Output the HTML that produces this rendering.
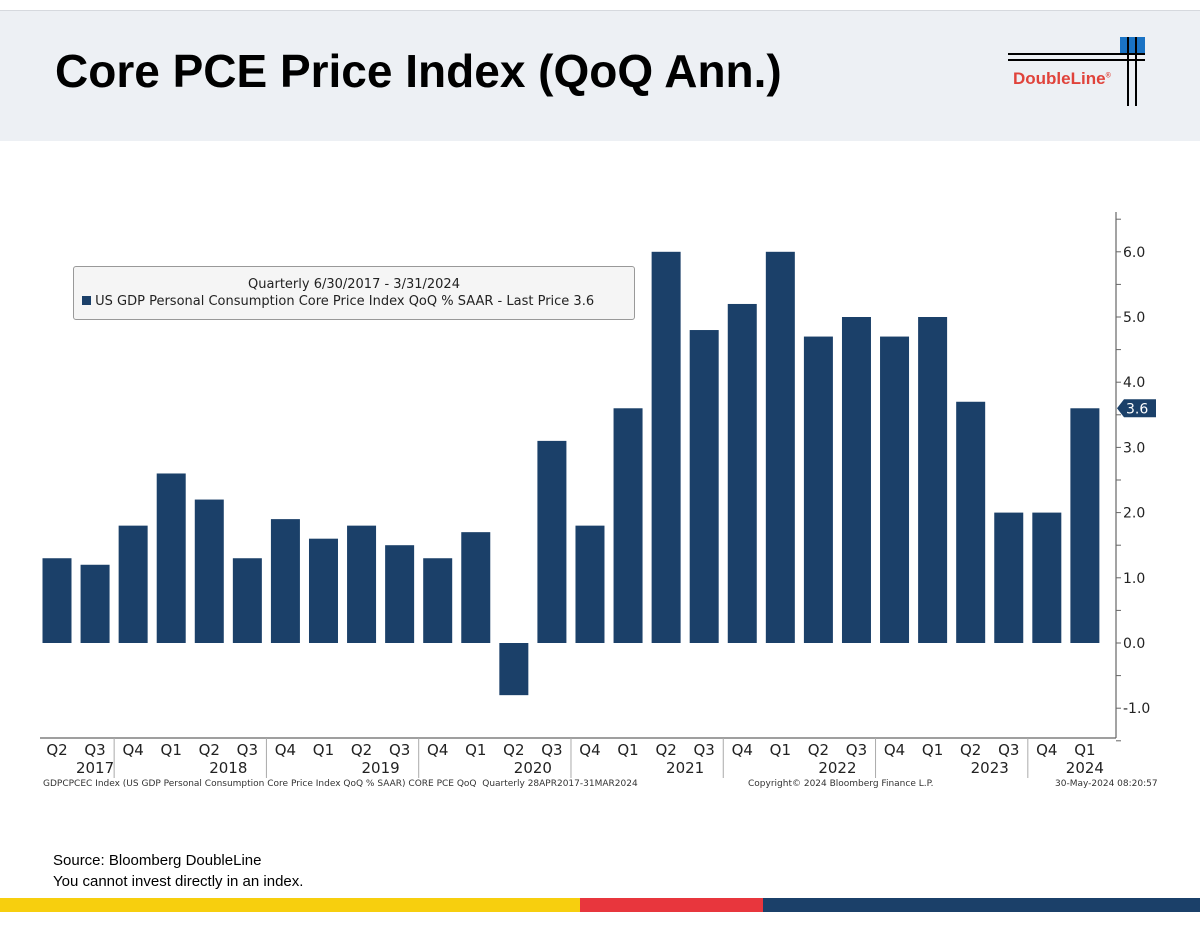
<!DOCTYPE html>
<html><head><meta charset="utf-8"><style>
body{margin:0;width:1200px;height:927px;background:#fff;position:relative;overflow:hidden;font-family:"Liberation Sans",sans-serif}
.abs{position:absolute}
</style></head><body>
<div class="abs" style="left:0;top:10px;width:1200px;height:130px;background:#edf0f4;border-top:1px solid #d6d9de"></div>
<div class="abs" style="left:55px;top:44px;font-size:46px;font-weight:bold;color:#000">Core PCE Price Index (QoQ Ann.)</div>
<div class="abs" style="left:1005px;top:35px;width:145px;height:75px">
 <div class="abs" style="left:115px;top:2px;width:25px;height:18px;background:#1a73c4"></div>
 <div class="abs" style="left:3px;top:18px;width:137px;height:2px;background:#000"></div>
 <div class="abs" style="left:3px;top:24px;width:137px;height:2px;background:#000"></div>
 <div class="abs" style="left:122px;top:2px;width:2px;height:69px;background:#000"></div>
 <div class="abs" style="left:130px;top:2px;width:2px;height:69px;background:#000"></div>
 <div class="abs" style="left:8px;top:34px;font-size:17px;font-weight:bold;color:#e0433b">DoubleLine<sup style="font-size:7px">®</sup></div>
</div>
<svg class="abs" style="left:0;top:0" width="1200" height="927" id="chart"></svg>
<div class="abs" style="left:73px;top:266px;width:560px;height:52px;border:1px solid #999;border-radius:3px;background:#f5f5f5;font-size:13px;color:#222;font-family:'DejaVu Sans',sans-serif">
 <div style="text-align:center;margin-top:10px">Quarterly 6/30/2017 - 3/31/2024</div>
 <div style="margin-left:8px;margin-top:2px;white-space:nowrap"><span style="display:inline-block;width:9px;height:9px;background:#1b4069"></span> US GDP Personal Consumption Core Price Index QoQ % SAAR - Last Price 3.6</div>
</div>
<div class="abs" style="left:43px;top:779px;font-size:9px;color:#333;font-family:'DejaVu Sans',sans-serif;white-space:nowrap">GDPCPCEC Index (US GDP Personal Consumption Core Price Index QoQ % SAAR) CORE PCE QoQ &nbsp;Quarterly 28APR2017-31MAR2024</div>
<div class="abs" style="left:748px;top:779px;font-size:9px;color:#333;font-family:'DejaVu Sans',sans-serif">Copyright© 2024 Bloomberg Finance L.P.</div>
<div class="abs" style="left:1055px;top:779px;font-size:9px;color:#333;font-family:'DejaVu Sans',sans-serif">30-May-2024 08:20:57</div>
<div class="abs" style="left:53px;top:850px;font-size:15px;color:#000;line-height:21px">Source: Bloomberg DoubleLine<br>You cannot invest directly in an index.</div>
<div class="abs" style="left:0;top:898px;width:580px;height:14px;background:#f7cf0e"></div>
<div class="abs" style="left:580px;top:898px;width:183px;height:14px;background:#e8363d"></div>
<div class="abs" style="left:763px;top:898px;width:437px;height:14px;background:#1b4069"></div>
<script>
const quarters=["Q2","Q3","Q4","Q1","Q2","Q3","Q4","Q1","Q2","Q3","Q4","Q1","Q2","Q3","Q4","Q1","Q2","Q3","Q4","Q1","Q2","Q3","Q4","Q1","Q2","Q3","Q4","Q1"];
const values=[1.3,1.2,1.8,2.6,2.2,1.3,1.9,1.6,1.8,1.5,1.3,1.7,-0.8,3.1,1.8,3.6,6.0,4.8,5.2,6.0,4.7,5.0,4.7,5.0,3.7,2.0,2.0,3.6];
const years=["2017","2018","2019","2020","2021","2022","2023","2024"];
const yTicks=[-1,0,1,2,3,4,5,6];
const lastValue=3.6;
const svg=document.getElementById('chart');const NS='http://www.w3.org/2000/svg';
const y=v=>643-v*65.2, xc=i=>57+i*38.07;
function mk(t,a,p){const e=document.createElementNS(NS,t);for(const k in a)e.setAttribute(k,a[k]);(p||svg).appendChild(e);return e;}
values.forEach((v,i)=>{const r=mk('rect',{x:xc(i)-14.5,y:Math.min(y(v),y(0)),width:29,height:Math.abs(y(v)-y(0)),fill:'#1b4069'});

});
mk('line',{x1:1116,y1:212,x2:1116,y2:738,stroke:'#666','stroke-width':1.2});
mk('line',{x1:40,y1:738,x2:1116,y2:738,stroke:'#666','stroke-width':1.2});
for(let v=-1.5;v<=6.5;v+=0.5){mk('line',{x1:1116,y1:y(v),x2:1121,y2:y(v),stroke:'#666'});}
yTicks.forEach(v=>{const t=mk('text',{x:1123,y:y(v)+5,'font-size':14,fill:'#222','font-family':'DejaVu Sans, sans-serif'});t.textContent=v.toFixed(1);

});
const ly=y(lastValue);
mk('polygon',{points:`1117,${ly} 1124,${ly-9} 1156,${ly-9} 1156,${ly+9} 1124,${ly+9}`,fill:'#1b4069'});
const lt=mk('text',{x:1126,y:ly+5,'font-size':14,fill:'#fff','font-family':'DejaVu Sans, sans-serif'});lt.textContent=lastValue.toFixed(1);


quarters.forEach((q,i)=>{const t=mk('text',{x:xc(i),y:755,'font-size':15,'text-anchor':'middle',fill:'#222','font-family':'DejaVu Sans, sans-serif'});t.textContent=q;


if(q==='Q4')mk('line',{x1:xc(i)-19,y1:738,x2:xc(i)-19,y2:778,stroke:'#aaa'});});
years.forEach((yr,k)=>{let idx=quarters.map((q,i)=>i).filter(i=>Math.floor((i+1)/4)===k);let c=(xc(idx[0])+xc(idx[idx.length-1]))/2;
const t=mk('text',{x:c,y:773,'font-size':15,'text-anchor':'middle',fill:'#222','font-family':'DejaVu Sans, sans-serif'});t.textContent=yr;

});
</script>
</body></html>
